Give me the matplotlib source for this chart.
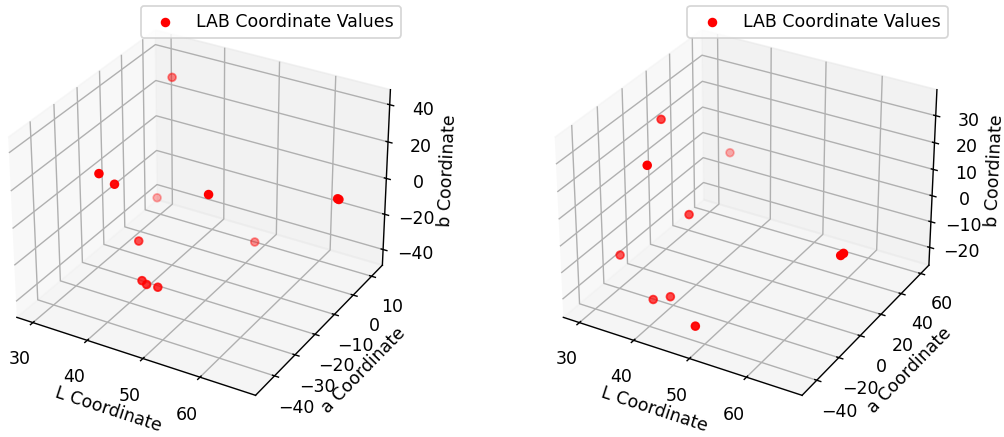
import matplotlib
matplotlib.use("Agg")
import matplotlib.pyplot as plt

# Left panel data (L, a, b)
L1 = [35.8, 33.9, 36.0, 37.1, 49.4, 66.5, 66.7, 39.4, 53.3, 42.2, 43.0, 44.6]
a1 = [1.5, -27.7, -26.0, -9.4, -16.9, -1.0, -0.9, -23.9, -4.7, -29.6, -29.5, -28.4]
b1 = [41.2, 14.5, 8.9, -13.9, 6.0, 2.9, 2.6, -21.4, -29.1, -34.9, -36.4, -37.6]

# Right panel data (L, a, b)
L2 = [33.8, 34.4, 43.4, 41.2, 33.4, 64.0, 63.7, 39.7, 41.9, 46.9]
a2 = [1.1, -13.8, 14.4, -10.8, -33.3, 12.6, 11.6, -35.1, -30.8, -33.3]
b2 = [31.5, 20.1, 20.1, 4.8, -6.8, -4.4, -5.0, -18.9, -18.1, -25.0]

label = 'LAB Coordinate Values'

W, H, DPI = 1005, 437, 125
fig = plt.figure(figsize=(W / DPI, H / DPI), dpi=DPI)
ax1 = fig.add_axes([-0.0152, 0.034, 0.4229, 0.9725], projection='3d')
ax2 = fig.add_axes([0.5286, 0.034, 0.4229, 0.9725], projection='3d')

panels = [
    (ax1, L1, a1, b1, (27, 69.5), (-49, 16), (-49, 48)),
    (ax2, L2, a2, b2, (27, 69.5), (-53, 68.5), (-27, 39.5)),
]
for ax, L, a, b, xl, yl, zl in panels:
    ax.scatter(L, a, b, c='red', label=label)
    ax.set_xlim(*xl)
    ax.set_ylim(*yl)
    ax.set_zlim(*zl)
    ax.set_xlabel('L Coordinate', labelpad=1)
    ax.set_ylabel('a Coordinate', labelpad=1)
    ax.set_zlabel('b Coordinate', labelpad=1)
    ax.legend(loc='upper right')

fig.savefig("out.png", dpi=DPI)
